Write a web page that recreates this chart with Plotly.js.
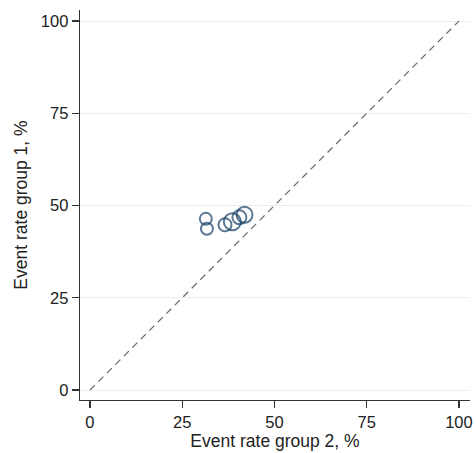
<!DOCTYPE html>
<html>
<head>
<meta charset="utf-8">
<script src="https://cdn.plot.ly/plotly-3.0.1.min.js"></script>
<style>html,body{margin:0;padding:0;background:#fff;}#chart{width:476px;height:453px;}</style>
</head>
<body>
<div id="chart"></div>
<script>
// Data
const rateGroup2 = [31.4, 31.7, 36.6, 38.6, 40.5, 41.9];
const rateGroup1 = [46.4, 43.7, 44.8, 45.6, 46.8, 47.5];
const markerSizes = [12, 12, 13, 17, 14, 16];
const diagX = [0, 100];
const diagY = [0, 100];
const tickVals = [0, 25, 50, 75, 100];
const tickText = ["0", "25", "50", "75", "100"];

const navy = "#173f68";
const fontFam = "Liberation Sans, Arial, Helvetica, sans-serif";
const traces = [
  {
    x: diagX, y: diagY, mode: "lines", type: "scatter",
    line: {color: "#666666", width: 1.2, dash: "7px,5px"},
    hoverinfo: "skip", showlegend: false
  },
  {
    x: rateGroup2, y: rateGroup1, mode: "markers", type: "scatter",
    marker: {size: markerSizes, color: "rgba(0,0,0,0)", line: {color: navy, width: 2}},
    showlegend: false
  }
];

const axisCommon = {
  tickvals: tickVals, ticktext: tickText,
  ticks: "outside", ticklen: 7, tickwidth: 1.2, tickcolor: "#333",
  showline: true, linecolor: "#333", linewidth: 1.3,
  zeroline: false, range: [-2.7, 103],
  tickfont: {family: fontFam, size: 16.5, color: "#222"}
};

const layout = {
  width: 476, height: 453,
  margin: {l: 80, r: 6, t: 10, b: 53},
  paper_bgcolor: "#fff", plot_bgcolor: "#fff",
  font: {family: fontFam, color: "#222"},
  xaxis: Object.assign({}, axisCommon, {
    showgrid: false,
    title: {text: "Event rate group 2, %", font: {size: 17.5, color: "#222"}, standoff: 2}
  }),
  yaxis: Object.assign({}, axisCommon, {
    showgrid: true, gridcolor: "#e6eff1", gridwidth: 1,
    title: {text: "Event rate group 1, %", font: {size: 17.5, color: "#222"}, standoff: 8}
  })
};

Plotly.newPlot("chart", traces, layout, {displayModeBar: false, staticPlot: true});
</script>
</body>
</html>
